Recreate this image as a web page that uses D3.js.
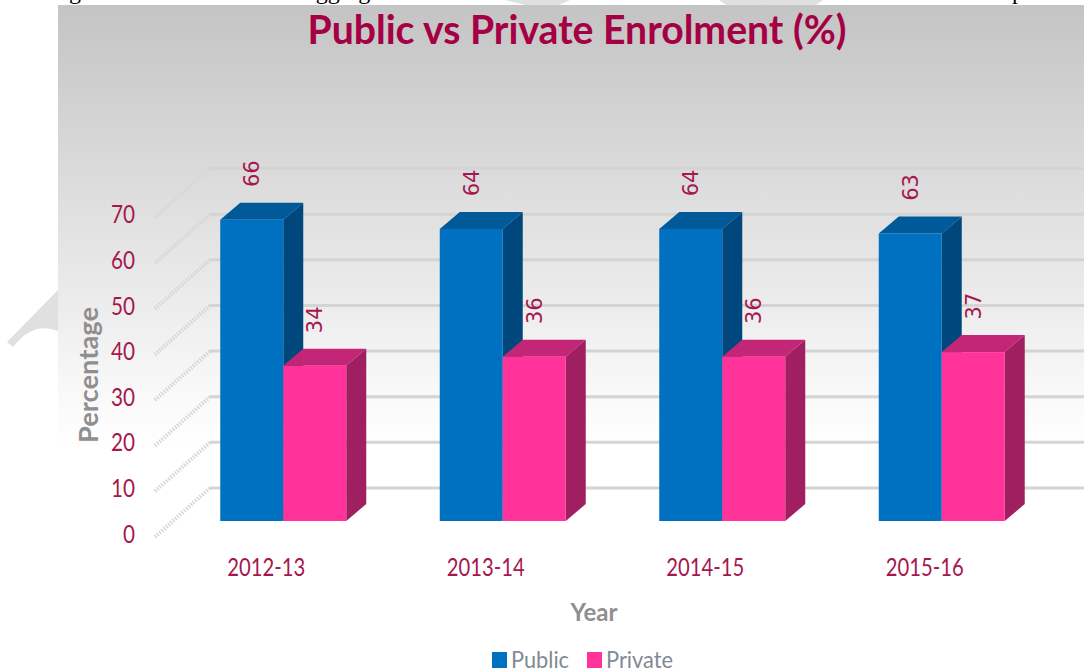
<!DOCTYPE html>
<html>
<head>
<meta charset="utf-8">
<script src="https://d3js.org/d3.v7.min.js"></script>
<style>
  html, body { margin: 0; padding: 0; background: #fff; }
  svg { display: block; }
  text { font-family: Lato, "Open Sans", sans-serif; }
</style>
</head>
<body>
<svg id="chart" width="1084" height="672"></svg>
<script>
// chart values
const years = ["2012-13", "2013-14", "2014-15", "2015-16"];
const seriesNames = ["Public", "Private"];
const publicValues = [66, 64, 64, 63];
const privateValues = [34, 36, 36, 37];
const yTicks = [0, 10, 20, 30, 40, 50, 60, 70];
// only the tails of this page text line show above the chart
const pageWords = ["Figure", "aggregate", "public"];

const seriesValues = { Public: publicValues, Private: privateValues };
const faceColor = { Public: "#0070c0", Private: "#ff3399" };
const topColor = { Public: "#005a9a", Private: "#c42677" };
const sideColor = { Public: "#00477d", Private: "#a01f60" };

const svg = d3.select("#chart");
const defs = svg.append("defs");

// grey panel fades to white towards the floor
const grad = defs.append("linearGradient")
    .attr("id", "panelFade")
    .attr("x1", 0).attr("y1", 0).attr("x2", 0).attr("y2", 1);
grad.append("stop").attr("offset", "0%").attr("stop-color", "#c4c4c4");
grad.append("stop").attr("offset", "25%").attr("stop-color", "#d9d9d9");
grad.append("stop").attr("offset", "48%").attr("stop-color", "#ececec");
grad.append("stop").attr("offset", "64%").attr("stop-color", "#fafafa");
grad.append("stop").attr("offset", "72%").attr("stop-color", "#ffffff");

// the bars stand on y=521, depth goes up and right
const x = d3.scaleBand().domain(years).range([173.5, 1051.5]).paddingInner(0).paddingOuter(0);
const y = d3.scaleLinear().domain([0, 70]).range([521, 201.5]);
const depthX = 20, depthY = -17;
const barW = 63;

// page watermark, only shows outside the panel
const mark = svg.append("g").attr("fill", "#e0e0e0");
mark.append("path").attr("d", "M7 342 L58 290 L58 331 C42 325 28 328 13 347 Z");
mark.append("path").attr("d", "M505 0 L525 5 L559 5 L570 0 Z");
mark.append("path").attr("d", "M719 0 L726 5 L816 5 L823 0 Z");

// page text above the chart, cut off by the window
const pageX = [49, 305, 1012];
svg.append("g").selectAll("text")
    .data(pageWords)
    .enter().append("text")
    .attr("x", (d, i) => pageX[i]).attr("y", -1)
    .style("font-family", "'Liberation Serif', serif")
    .style("font-size", "24px")
    .attr("fill", "#000")
    .text(d => d);

svg.append("rect")
    .attr("x", 58).attr("y", 5)
    .attr("width", 1026).attr("height", 620)
    .attr("fill", "url(#panelFade)");

// back wall lines
const wallY = v => y(v) - 33;
const grid = svg.append("g");
grid.selectAll("line.back")
    .data(yTicks)
    .enter().append("line")
    .attr("class", "back")
    .attr("x1", 210).attr("x2", 1084)
    .attr("y1", d => wallY(d)).attr("y2", d => wallY(d))
    .attr("stroke", "#d4d4d4")
    .attr("stroke-width", 3);

// dotted diagonals on the side wall
grid.selectAll("line.diag")
    .data(yTicks)
    .enter().append("line")
    .attr("class", "diag")
    .attr("x1", 155).attr("x2", 210)
    .attr("y1", d => y(d) + 16).attr("y2", d => wallY(d))
    .attr("stroke", "#d6d6d6")
    .attr("stroke-width", 4)
    .attr("stroke-dasharray", "1.5 1.5");

// y tick labels
svg.append("g").selectAll("text")
    .data(yTicks)
    .enter().append("text")
    .attr("x", 135).attr("y", d => y(d) + 13)
    .attr("dy", "0.35em")
    .attr("text-anchor", "end")
    .attr("fill", "#a5174e")
    .attr("textLength", d => String(d).length * 12)
    .attr("lengthAdjust", "spacingAndGlyphs")
    .style("font-size", "25px")
    .text(d => d);

// bars, one group per year
const groups = svg.append("g").selectAll("g")
    .data(years)
    .enter().append("g")
    .attr("transform", d => `translate(${x(d) + x.bandwidth() / 2},0)`);

seriesNames.forEach((name, s) => {
    const left = s === 0 ? -barW : 0;
    const vals = seriesValues[name];
    const valueOf = (d, i) => vals[i];

    // top face
    groups.append("path")
        .attr("fill", topColor[name])
        .attr("d", (d, i) => {
            const t = y(valueOf(d, i));
            return `M${left} ${t}L${left + depthX} ${t + depthY}L${left + barW + depthX} ${t + depthY}L${left + barW} ${t}Z`;
        });
    // side face
    groups.append("path")
        .attr("fill", sideColor[name])
        .attr("d", (d, i) => {
            const t = y(valueOf(d, i));
            return `M${left + barW} ${t}L${left + barW + depthX} ${t + depthY}L${left + barW + depthX} ${y(0) + depthY}L${left + barW} ${y(0)}Z`;
        });
    // front face
    groups.append("rect")
        .attr("x", left)
        .attr("y", (d, i) => y(valueOf(d, i)))
        .attr("width", barW)
        .attr("height", (d, i) => y(0) - y(valueOf(d, i)))
        .attr("fill", faceColor[name]);
});

// value labels are drawn after all bars so they sit on top
seriesNames.forEach((name, s) => {
    const left = s === 0 ? -barW : 0;
    groups.append("text")
        .attr("transform", (d, i) => `translate(${left + barW / 2},${y(seriesValues[name][i]) - 46}) rotate(-90)`)
        .attr("text-anchor", "middle")
        .attr("dy", "0.35em")
        .attr("fill", "#a5174e")
        .style("font-family", "'DejaVu Sans', sans-serif")
        .style("font-size", "21px")
        .text((d, i) => seriesValues[name][i]);
});

// year labels
svg.append("g").selectAll("text")
    .data(years)
    .enter().append("text")
    .attr("x", d => x(d) + x.bandwidth() / 2 - 17)
    .attr("y", 576)
    .attr("text-anchor", "middle")
    .attr("fill", "#a5174e")
    .attr("textLength", 78)
    .attr("lengthAdjust", "spacingAndGlyphs")
    .style("font-size", "25px")
    .text(d => d);

// titles
svg.append("text")
    .attr("x", 577).attr("y", 44)
    .attr("text-anchor", "middle")
    .attr("fill", "#a50044")
    .attr("textLength", 539)
    .attr("lengthAdjust", "spacingAndGlyphs")
    .style("font-size", "41px")
    .style("font-weight", "700")
    .text("Public vs Private Enrolment (%)");

svg.append("text")
    .attr("x", 594).attr("y", 621)
    .attr("text-anchor", "middle")
    .attr("fill", "#8f8f8f")
    .style("font-size", "24px")
    .style("font-weight", "700")
    .text("Year");

svg.append("text")
    .attr("transform", "translate(98,375) rotate(-90)")
    .attr("text-anchor", "middle")
    .attr("fill", "#8f8f8f")
    .attr("textLength", 136)
    .attr("lengthAdjust", "spacingAndGlyphs")
    .style("font-size", "26px")
    .style("font-weight", "700")
    .text("Percentage");

// legend
const legendX = { Public: 492, Private: 587 };
const legendW = { Public: 58, Private: 67 };
const legend = svg.append("g").selectAll("g")
    .data(seriesNames)
    .enter().append("g")
    .attr("transform", d => `translate(${legendX[d]},652)`);
legend.append("rect")
    .attr("width", 15).attr("height", 16)
    .attr("fill", d => faceColor[d]);
legend.append("text")
    .attr("x", 19).attr("y", 16)
    .attr("fill", "#7f8a96")
    .attr("textLength", d => legendW[d])
    .attr("lengthAdjust", "spacingAndGlyphs")
    .style("font-size", "24px")
    .text(d => d);
</script>
</body>
</html>
